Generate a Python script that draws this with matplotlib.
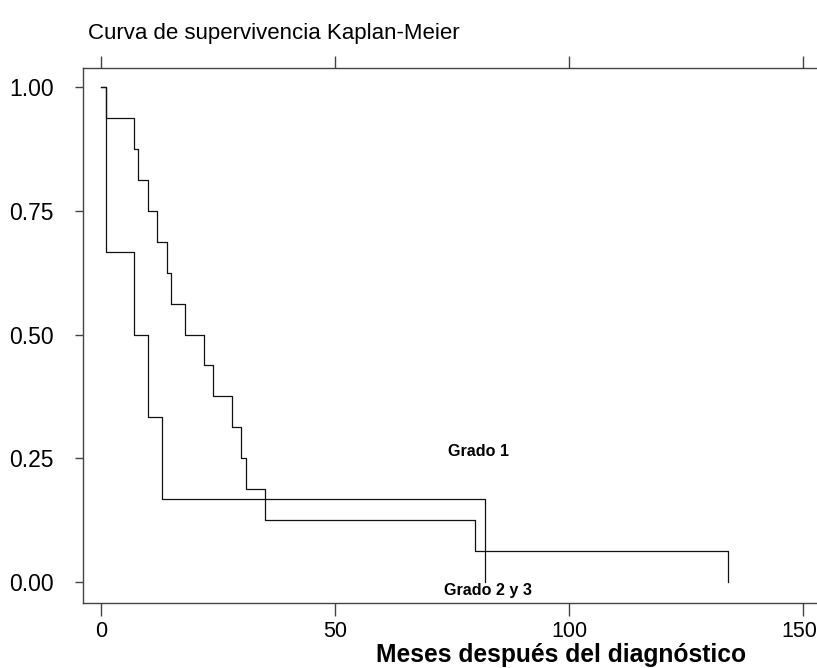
import matplotlib
matplotlib.use("Agg")
import matplotlib.pyplot as plt
import matplotlib.transforms as mtransforms

plt.rcParams['font.family'] = ['Liberation Sans', 'DejaVu Sans']

# Data
g1_times = [0, 1, 7, 8, 10, 12, 14, 15, 18, 22, 24, 28, 30, 31, 35, 80, 134]
g1_surv = [1.0, 0.9375, 0.875, 0.8125, 0.75, 0.6875, 0.625, 0.5625, 0.5,
           0.4375, 0.375, 0.3125, 0.25, 0.1875, 0.125, 0.0625, 0.0]
g23_times = [0, 1, 7, 10, 13, 82]
g23_surv = [1.0, 0.6667, 0.5, 0.3333, 0.1667, 0.0]

x_ticks = [0, 50, 100, 150]
y_ticks = [0.0, 0.25, 0.50, 0.75, 1.00]
y_ticklabels = ["0.00", "0.25", "0.50", "0.75", "1.00"]

title = "Curva de supervivencia Kaplan-Meier"
xlabel = "Meses después del diagnóstico"
label_g1 = "Grado 1"
label_g23 = "Grado 2 y 3"

fig = plt.figure(figsize=(8.17, 6.68), dpi=100)
ax = fig.add_axes([83/817, 1-603/668, 1-83/817, (603-68)/668])

lc = '#111111'
ax.step(g1_times, g1_surv, where='post', color=lc, lw=0.9)
ax.step(g23_times, g23_surv, where='post', color=lc, lw=0.9)

ax.set_xlim(-3.85, 153.0)
ax.set_ylim(-0.0424, 1.0384)

spc = '#444444'
for s in ['left', 'bottom', 'top']:
    ax.spines[s].set_color(spc)
    ax.spines[s].set_linewidth(1.0)
ax.spines['right'].set_visible(False)

ax.set_xticks(x_ticks)
ax.set_xticklabels([str(v) for v in x_ticks], fontsize=15.5)
ax.set_yticks(y_ticks)
ax.set_yticklabels(y_ticklabels, fontsize=16.5)
ax.tick_params(axis='y', direction='out', length=6, width=1.0, color=spc, pad=15)
ax.tick_params(axis='x', direction='out', length=9, width=1.0, color=spc, pad=4,
               top=True, labeltop=False)

# nudge last x tick label so it stays inside the figure
last = ax.get_xticklabels()[-1]
last.set_transform(last.get_transform() +
                   mtransforms.ScaledTranslation(-4/100, 0, fig.dpi_scale_trans))

ax.text(80.6, 0.263, label_g1, fontsize=11.6, fontweight='bold', ha='center', va='center')
ax.text(82.7, -0.018, label_g23, fontsize=11.6, fontweight='bold', ha='center', va='center')

fig.text(88/817, 1-33/668, title, fontsize=16, ha='left', va='center')
fig.text(561/817, 1-655/668, xlabel, fontsize=17.7, fontweight='bold', ha='center', va='center')

fig.savefig("out.png", dpi=100)
